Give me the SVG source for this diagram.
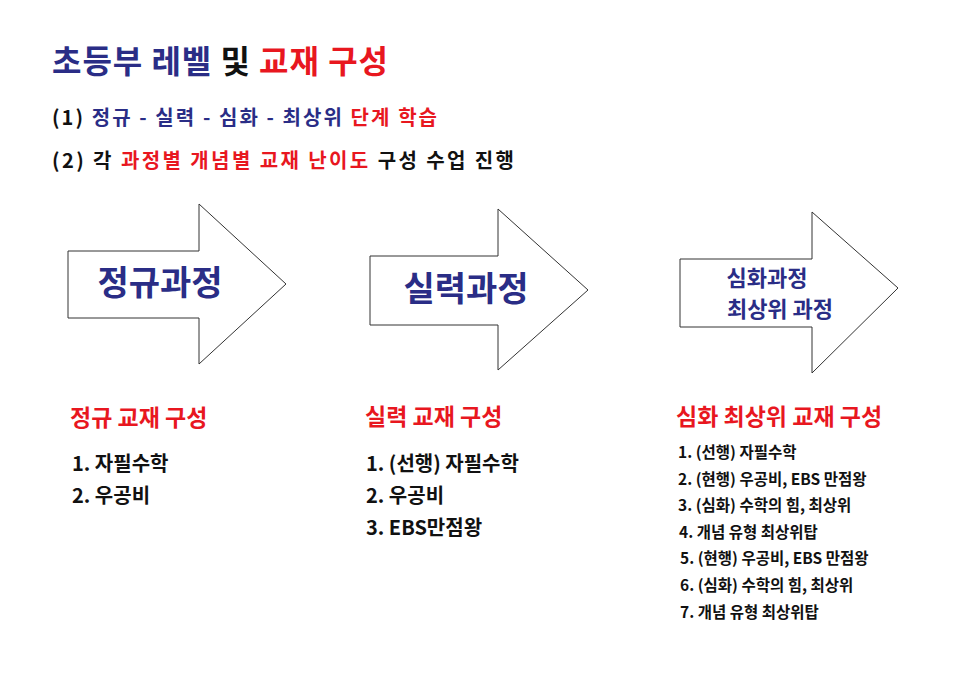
<svg xmlns="http://www.w3.org/2000/svg" width="966" height="683" viewBox="0 0 966 683" xml:space="preserve">
<style>
text{font-family:"Noto Sans CJK KR","Noto Sans",sans-serif;font-weight:bold}
.b{fill:#2a2d86}.r{fill:#e8171f}.k{fill:#111}
.arrow{fill:#fff;stroke:#333;stroke-width:1}
.h{font-size:32px}.s{font-size:20px}.n{font-size:34px}.t{font-size:23px}.a{font-size:22px}.l{font-size:20px}.m{font-size:15.5px}
</style>
<rect width="966" height="683" fill="#fff"/>
<g id="header">
<text x="52" y="73" class="h" textLength="336" lengthAdjust="spacing"><tspan class="b">초등부 레벨 </tspan><tspan class="k">및 </tspan><tspan class="r">교재 구성</tspan></text>
<text x="52" y="125" class="s" textLength="385" lengthAdjust="spacing"><tspan class="k">(1)  </tspan><tspan class="b">정규  - 실력 - 심화 - 최상위 </tspan><tspan class="r">단계 학습</tspan></text>
<text x="52" y="168" class="s" textLength="462" lengthAdjust="spacing"><tspan class="k">(2)  각 </tspan><tspan class="r">과정별 개념별 교재 난이도 </tspan><tspan class="k">구성 수업 진행</tspan></text>
</g>
<g id="arrow1">
<polygon class="arrow" points="68,251 199,251 199,204 286,284 199,364 199,318 68,318"/>
<text x="160" y="295" class="n b" text-anchor="middle">정규과정</text>
</g>
<g id="arrow2">
<polygon class="arrow" points="370,256 498,256 498,209 588,290 498,370 498,325 370,325"/>
<text x="466" y="301" class="n b" text-anchor="middle">실력과정</text>
</g>
<g id="arrow3">
<polygon class="arrow" points="680,259 812,259 812,212 898,288 812,373 812,327 680,327"/>
<text x="767" y="286" class="a b" text-anchor="middle">심화과정</text>
<text x="780" y="317" class="a b" text-anchor="middle">최상위 과정</text>
</g>
<g id="list1">
<text x="70" y="426" class="t r">정규 교재 구성</text>
<text x="72" y="471" class="l k">1.  자필수학</text>
<text x="72" y="503" class="l k">2. 우공비</text>
</g>
<g id="list2">
<text x="365" y="425" class="t r">실력 교재 구성</text>
<text x="366" y="471" class="l k">1. (선행) 자필수학</text>
<text x="366" y="503" class="l k">2. 우공비</text>
<text x="366" y="535" class="l k">3.  EBS만점왕</text>
</g>
<g id="list3">
<text x="676" y="425" class="t r">심화 최상위 교재 구성</text>
<text x="678" y="458" class="m k">1. (선행) 자필수학</text>
<text x="678" y="485" class="m k">2. (현행) 우공비, EBS 만점왕</text>
<text x="678" y="511" class="m k">3. (심화) 수학의 힘, 최상위</text>
<text x="679" y="538" class="m k">4. 개념 유형 최상위탑</text>
<text x="680" y="564" class="m k">5. (현행) 우공비, EBS 만점왕</text>
<text x="680" y="591" class="m k">6. (심화) 수학의 힘, 최상위</text>
<text x="680" y="618" class="m k">7. 개념 유형 최상위탑</text>
</g>
<g id="connectors"></g>
</svg>
